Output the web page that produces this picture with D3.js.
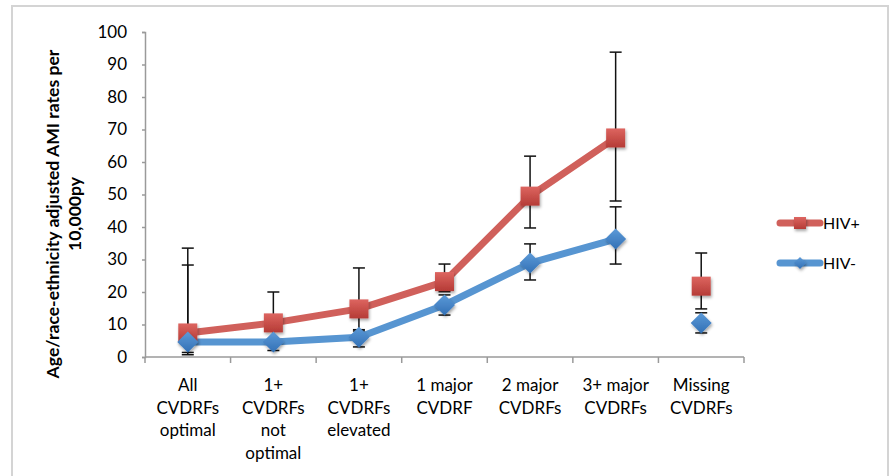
<!DOCTYPE html>
<html>
<head>
<meta charset="utf-8">
<script src="https://cdn.jsdelivr.net/npm/d3@7"></script>
<style>
  html, body { margin: 0; padding: 0; background: #fff; }
  svg { display: block; font-family: Lato, "Open Sans", sans-serif; }
</style>
</head>
<body>
<svg id="chart" width="890" height="476"></svg>
<script>
// Category labels (one array of lines per category)
const categories = [
  ["All", "CVDRFs", "optimal"],
  ["1+", "CVDRFs", "not", "optimal"],
  ["1+", "CVDRFs", "elevated"],
  ["1 major", "CVDRF"],
  ["2 major", "CVDRFs"],
  ["3+ major", "CVDRFs"],
  ["Missing", "CVDRFs"]
];
const categoryKeys = categories.map(c => c.join(" "));

// Age/race-ethnicity adjusted AMI rates per 10,000 person-years
const hivPos      = [7.4, 10.5, 14.8, 23.2, 49.5, 67.4, 21.8];
const hivPosLower = [1.4, 5.5, 8.0, 20.1, 39.7, 48.0, 14.8];
const hivPosUpper = [33.5, 20.0, 27.4, 28.6, 61.8, 93.8, 32.0];

const hivNeg      = [4.6, 4.6, 6.1, 16.0, 28.9, 36.3, 10.5];
const hivNegLower = [0.7, 2.0, 3.1, 12.9, 23.7, 28.6, 7.4];
const hivNegUpper = [28.3, 8.0, 8.4, 19.1, 34.8, 46.2, 13.6];

// The last category is plotted as a standalone point (not joined by the line)
const connectedCount = 6;

const yTicks = d3.range(0, 101, 10);

const series = [
  { name: "HIV+", values: hivPos, lower: hivPosLower, upper: hivPosUpper,
    line: "#d0605b", fill: "#cc4a45", fillLight: "#dd6560", fillDark: "#b53b36", shape: "square" },
  { name: "HIV-", values: hivNeg, lower: hivNegLower, upper: hivNegUpper,
    line: "#5795d1", fill: "#4384c8", fillLight: "#5c9ad8", fillDark: "#3270b5", shape: "diamond" }
];

const svg = d3.select("#chart");

// Outer frame
svg.append("rect")
  .attr("x", 12).attr("y", 6).attr("width", 876).attr("height", 480)
  .attr("fill", "none").attr("stroke", "#d4d4d4").attr("stroke-width", 2);

const defs = svg.append("defs");
const shadow = defs.append("filter").attr("id", "shadow")
  .attr("x", "-50%").attr("y", "-50%").attr("width", "200%").attr("height", "200%");
shadow.append("feDropShadow")
  .attr("dx", 1).attr("dy", 2).attr("stdDeviation", 1.4)
  .attr("flood-color", "#000").attr("flood-opacity", 0.35);

series.forEach((s, i) => {
  const g = defs.append("linearGradient").attr("id", "grad" + i)
    .attr("x1", 0).attr("y1", 0).attr("x2", 0).attr("y2", 1);
  g.append("stop").attr("offset", "0%").attr("stop-color", s.fillLight);
  g.append("stop").attr("offset", "100%").attr("stop-color", s.fillDark);
  s.gradient = "url(#grad" + i + ")";
});

const plot = { left: 145, right: 744, top: 32, bottom: 357 };

const x = d3.scaleBand().domain(categoryKeys).range([plot.left, plot.right]).padding(0);
const y = d3.scaleLinear().domain([0, 100]).range([plot.bottom, plot.top]);
const cx = i => x(categoryKeys[i]) + x.bandwidth() / 2;

// Y axis
const yAxis = svg.append("g")
  .attr("transform", `translate(${plot.left},0)`)
  .call(d3.axisLeft(y).tickValues(yTicks).tickSize(3).tickPadding(15).tickFormat(d3.format("d")));
yAxis.select(".domain").attr("stroke", "#9a9a9a").attr("stroke-width", 1.5);
yAxis.selectAll(".tick line").attr("stroke", "#9a9a9a").attr("stroke-width", 1.5);
yAxis.selectAll(".tick text")
  .attr("font-size", 17).attr("fill", "#000").attr("font-family", "Lato, sans-serif");

// X axis: baseline with tick marks at category boundaries
const xAxis = svg.append("g");
xAxis.append("line")
  .attr("x1", plot.left).attr("x2", plot.right)
  .attr("y1", y(0)).attr("y2", y(0))
  .attr("stroke", "#9a9a9a").attr("stroke-width", 1.5);
const boundaries = categoryKeys.map(k => x(k)).concat([x(categoryKeys[categoryKeys.length - 1]) + x.bandwidth()]);
xAxis.selectAll("line.tick").data(boundaries).join("line")
  .attr("class", "tick")
  .attr("x1", d => d).attr("x2", d => d)
  .attr("y1", y(0)).attr("y2", y(0) + 6)
  .attr("stroke", "#9a9a9a").attr("stroke-width", 1.5);

const labels = xAxis.selectAll("text.cat").data(categories).join("text")
  .attr("class", "cat")
  .attr("text-anchor", "middle")
  .attr("font-size", 17)
  .attr("fill", "#000");
labels.each(function (lines, i) {
  d3.select(this).selectAll("tspan").data(lines).join("tspan")
    .attr("x", cx(i))
    .attr("y", (d, j) => 391 + j * 22.7)
    .text(d => d);
});

// Y axis title
const title = svg.append("text")
  .attr("transform", "translate(0,214) rotate(-90)")
  .attr("text-anchor", "middle")
  .attr("font-size", 17.6)
  .attr("font-weight", "bold")
  .attr("fill", "#000");
title.append("tspan").attr("x", 0).attr("y", 59).text("Age/race-ethnicity adjusted AMI rates per");
title.append("tspan").attr("x", 0).attr("y", 81).text("10,000py");

// Error bars
const capHalf = 6;
series.forEach(s => {
  const eb = svg.append("g").attr("stroke", "#111").attr("stroke-width", 1.5);
  s.values.forEach((v, i) => {
    const xc = cx(i);
    eb.append("line").attr("x1", xc).attr("x2", xc)
      .attr("y1", y(s.lower[i])).attr("y2", y(s.upper[i]));
    [s.lower[i], s.upper[i]].forEach(b => {
      eb.append("line").attr("x1", xc - capHalf).attr("x2", xc + capHalf)
        .attr("y1", y(b)).attr("y2", y(b));
    });
  });
});

// Series lines
const lineGen = d3.line().x((d, i) => cx(i)).y(d => y(d));
series.forEach(s => {
  svg.append("path")
    .datum(s.values.slice(0, connectedCount))
    .attr("d", lineGen)
    .attr("fill", "none")
    .attr("stroke", s.line)
    .attr("stroke-width", 7)
    .attr("stroke-linejoin", "round")
    .attr("stroke-linecap", "round");
});

// Markers
const diamondPath = r => `M0,${-r}L${r},0L0,${r}L${-r},0Z`;
function drawMarker(sel, s, size) {
  if (s.shape === "square") {
    sel.append("rect")
      .attr("x", -size / 2).attr("y", -size / 2)
      .attr("width", size).attr("height", size)
      .attr("fill", s.gradient).attr("filter", "url(#shadow)");
  } else {
    sel.append("path").attr("d", diamondPath(size / 2 + 1))
      .attr("fill", s.gradient).attr("filter", "url(#shadow)");
  }
}
series.forEach(s => {
  s.values.forEach((v, i) => {
    const g = svg.append("g").attr("transform", `translate(${cx(i)},${y(v)})`);
    drawMarker(g, s, 19);
  });
});

// Legend
const legend = svg.append("g");
series.forEach((s, i) => {
  const ly = 223 + i * 40;
  const g = legend.append("g").attr("transform", `translate(0,${ly})`);
  g.append("line").attr("x1", 780).attr("x2", 820).attr("y1", 0).attr("y2", 0)
    .attr("stroke", s.line).attr("stroke-width", 7).attr("stroke-linecap", "round");
  const m = g.append("g").attr("transform", "translate(800,0)");
  drawMarker(m, s, s.shape === "square" ? 12 : 10);
  g.append("text").attr("x", 823).attr("y", 0).attr("dy", "0.36em")
    .attr("font-size", 16).attr("fill", "#000").text(s.name);
});
</script>
</body>
</html>
